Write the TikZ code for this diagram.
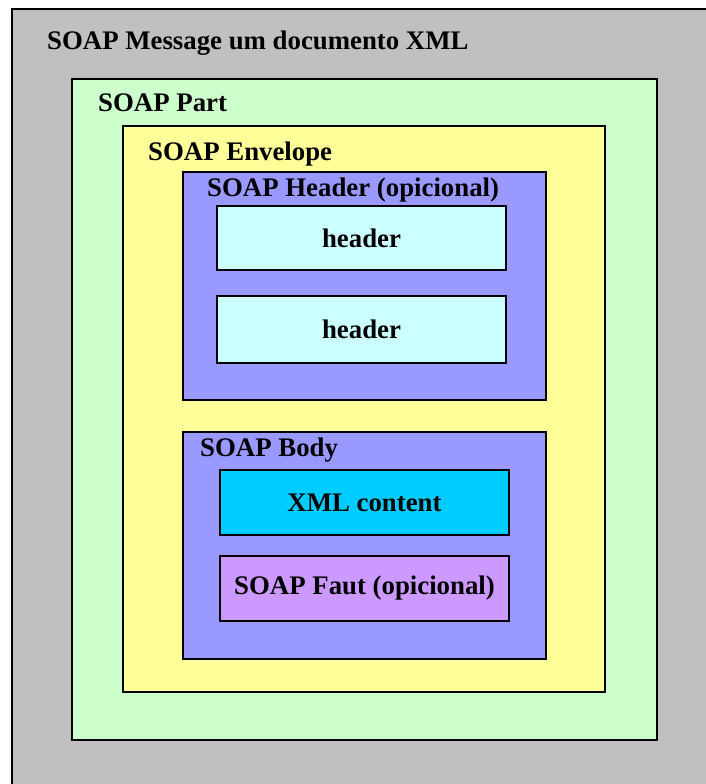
\documentclass[tikz,border=0pt]{standalone}
\usepackage{fontspec}
\setmainfont{Liberation Serif}
\definecolor{cgray}{HTML}{C0C0C0}
\definecolor{cgreen}{HTML}{CCFFCC}
\definecolor{cyellow}{HTML}{FFFF99}
\definecolor{cblue}{HTML}{9999FF}
\definecolor{clcyan}{HTML}{CCFFFF}
\definecolor{ccyan}{HTML}{00CCFF}
\definecolor{clilac}{HTML}{CC99FF}
\begin{document}
\begin{tikzpicture}[x=1pt,y=-1pt,
  box/.style={draw=black,line width=2pt},
  lbl/.style={anchor=base west,inner sep=0pt,font=\fontsize{26.8}{30}\selectfont\bfseries},
  ctr/.style={inner sep=0pt,font=\fontsize{26.8}{30}\selectfont\bfseries}]
\useasboundingbox (0,0) rectangle (706,784);
\fill[white] (0,0) rectangle (706,784);
\draw[box,fill=cgray] (12,9) rectangle (720,800);
\node[lbl] (msg) at (47,50) {SOAP Message um documento XML};
\draw[box,fill=cgreen] (72,79) rectangle (657,740);
\node[lbl] (part) at (98,111) {SOAP Part};
\draw[box,fill=cyellow] (123,126) rectangle (605,692);
\node[lbl] (env) at (148,160) {SOAP Envelope};
\draw[box,fill=cblue] (183,172) rectangle (546,400);
\node[lbl] (hdr) at (207,196) {SOAP Header (opicional)};
\draw[box,fill=clcyan] (217,206) rectangle node[ctr] (h1) {header} (506,270);
\draw[box,fill=clcyan] (217,296) rectangle node[ctr] (h2) {header} (506,363);
\draw[box,fill=cblue] (183,432) rectangle (546,659);
\node[lbl] (body) at (200,456) {SOAP Body};
\draw[box,fill=ccyan] (220,470) rectangle node[ctr] (xml) {XML content} (509,535);
\draw[box,fill=clilac] (220,556) rectangle node[ctr] (fault) {SOAP Faut (opicional)} (509,621);
\end{tikzpicture}
\end{document}
